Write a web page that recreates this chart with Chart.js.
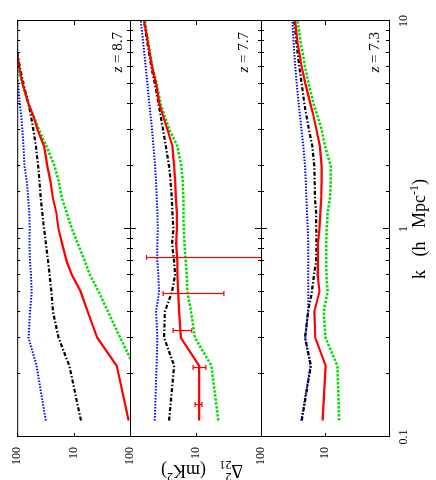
<!DOCTYPE html>
<html>
<head>
<meta charset="utf-8">
<script src="https://cdn.jsdelivr.net/npm/chart.js@4.4.1/dist/chart.umd.min.js"></script>
<style>
  html, body { margin: 0; padding: 0; background: #fff; }
  #page { width: 436px; height: 480px; position: relative; overflow: hidden; }
  /* the figure is drawn upright (480x436) and turned a quarter turn, like the original */
  #fig { position: absolute; left: 0; top: 0; width: 480px; height: 436px;
         transform-origin: 0 0; transform: translate(0, 480px) rotate(-90deg); }
  #fig canvas { position: absolute; left: 0; top: 0; }
</style>
</head>
<body>
<div id="page"><div id="fig">
  <canvas id="p1" width="480" height="436"></canvas>
  <canvas id="p2" width="480" height="436"></canvas>
  <canvas id="p3" width="480" height="436"></canvas>
</div></div>
<script>
const kValues = [0.12, 0.22, 0.3, 0.4, 0.5, 0.6, 0.7, 0.85, 1.0, 1.2, 1.4, 1.7, 2.0, 2.5, 3.0, 3.5, 4.0, 5.0, 6.0, 7.0, 8.0, 10];

// z = 8.7
const red87   = [1.06, 1.72, 3.8, 5.6, 7.5, 10.7, 13.3, 16, 18.5, 20.3, 23.2, 25.8, 29.2, 33.3, 43.5, 51.8, 63, 80.5, 92, 100, 112, 130];
const black87 = [7.4, 11.9, 18.5, 23.2, 24.8, 26.6, 28.4, 31, 33.3, 36, 38.2, 40.2, 42.4, 46.6, 51.8, 57, 63.2, 77.3, 90, 99, 106, 125];
const blue87  = [31.2, 45.3, 63, 59.3, 55.4, 57, 59.3, 60.8, 60, 61, 63.8, 67.7, 74.3, 77.3, 81, 85, 90, 97, 105, 112, 120, 135];
const green87 = [0.5, 0.85, 1.49, 2.45, 3.6, 5.1, 6.3, 8.4, 10.7, 13.3, 16, 18.4, 21.7, 30.3, 41, 51.2, 63.8, 81, 100, 115, 125, 140];

// z = 7.7
const red77   = [8.8, 8.8, 16.7, 17.8, 18.4, 18.9, 18.9, 19.8, 19.3, 19.3, 20, 20.5, 21.2, 22.5, 26.8, 31.3, 35.6, 40, 46, 50, 53.6, 61];
const black77 = [25.3, 21.2, 30.2, 29.4, 22.8, 20.5, 21.2, 22.8, 21.7, 22.5, 23, 24, 25.3, 28.4, 31.3, 34.1, 36.6, 41.9, 47.2, 51.2, 55, 61];
const blue77  = [41.9, 39.3, 38.2, 40, 36, 36.9, 38.2, 38.2, 37.7, 38.2, 39, 40, 41.4, 44, 46, 48.5, 50.7, 54.3, 57.5, 60.4, 63.2, 68.6];
const green77 = [4.5, 5.7, 10.2, 11.7, 13.3, 13.6, 14.1, 14.7, 15.1, 15.3, 15.3, 15.7, 16.4, 18.9, 24.9, 29.7, 34.1, 39.3, 45.3, 49.4, 53, 59];

// z = 7.3
const red73   = [10.9, 9.75, 14.2, 14.7, 12.2, 13, 12.9, 12.9, 12.2, 11.8, 11.5, 11.3, 11.3, 12, 13.6, 15.1, 16.9, 20.3, 23.1, 25.2, 27.1, 29.4];
const black73 = [23.1, 16.6, 20.5, 18.4, 16, 14.9, 13.8, 13.6, 13.7, 13.8, 14.3, 14.5, 14.7, 15.8, 17.8, 19.5, 21, 23.1, 25.2, 26.7, 28.1, 30.2];
const blue73  = [23.5, 16.8, 20.3, 18.4, 18.2, 18.2, 18.2, 18.2, 18.6, 19.1, 19.5, 20, 20.5, 21.8, 23.3, 24.6, 25.8, 27.7, 29.1, 30.2, 31, 32.4];
const green73 = [6.0, 6.4, 9.8, 10.5, 9.1, 9.5, 9.6, 9.6, 9.4, 9.1, 8.4, 8.1, 8.1, 10, 11.3, 13.1, 15.1, 18, 20.5, 22.3, 24.2, 26.7];

// error bars on the z = 7.7 panel
const errK    = [0.143, 0.214, 0.323, 0.485, 0.723];
const errLow  = [8.0, 6.95, 11.4, 3.7, 0.5];
const errHigh = [10.1, 10.9, 22, 31.3, 56];

const redshifts = ['8.7', '7.7', '7.3'];
const kTickLabels = [0.1, 1, 10];
const deltaTickLabels = [10, 100];

const FONT = '"Liberation Serif", "DejaVu Serif", serif';
const PLOT_LEFT = 43, PLOT_RIGHT = 459;
const panelBox = [
  { top: 15, bottom: 130, zOffset: 8 },
  { top: 130, bottom: 261, zOffset: 13 },
  { top: 261, bottom: 389, zOffset: 10 }
];
const seriesStyle = [   // red first so it ends up on top
  { color: '#ff0000', width: 2.2, dash: [] },
  { color: '#000000', width: 2.2, dash: [4, 2, 1.5, 2] },
  { color: '#0000ff', width: 2, dash: [1.5, 1.5] },
  { color: '#00dd00', width: 2.5, dash: [2.5, 1.5] }
];

function isDecade(v) {
  const l = Math.log10(v);
  return Math.abs(l - Math.round(l)) < 1e-6;
}
function inList(v, list) {
  return list.some(t => Math.abs(v - t) < 1e-9 * t);
}

// text with sub/superscripts; parts = {text, size, rise, italic, stack}
function drawRich(ctx, parts, x, y, align) {
  let w = 0, lastStart = 0;
  parts.forEach(p => {
    ctx.font = (p.italic ? 'italic ' : '') + p.size + 'px ' + FONT;
    const pw = ctx.measureText(p.text).width;
    p.dx = p.stack ? lastStart : w;
    lastStart = p.dx;
    w = Math.max(w, p.dx + pw);
  });
  const x0 = align === 'center' ? x - w / 2 : (align === 'right' ? x - w : x);
  ctx.textAlign = 'left';
  ctx.textBaseline = 'alphabetic';
  parts.forEach(p => {
    ctx.font = (p.italic ? 'italic ' : '') + p.size + 'px ' + FONT;
    ctx.fillText(p.text, x0 + p.dx, y - (p.rise || 0));
  });
}

const frameTicks = {
  id: 'frameTicks',
  afterDatasetsDraw(chart, args, opts) {
    if (!opts.errors) return;
    const { ctx, chartArea: a, scales: { x, y } } = chart;
    ctx.save();
    ctx.beginPath();
    ctx.rect(a.left, a.top, a.right - a.left, a.bottom - a.top);
    ctx.clip();
    ctx.strokeStyle = '#ff0000';
    ctx.lineWidth = 1.2;
    ctx.beginPath();
    errK.forEach((k, i) => {
      const px = Math.round(x.getPixelForValue(k)) + 0.5;
      const lo = y.getPixelForValue(errLow[i]);
      const hi = y.getPixelForValue(errHigh[i]);
      ctx.moveTo(px, lo); ctx.lineTo(px, hi);
      ctx.moveTo(px - 2.5, lo); ctx.lineTo(px + 2.5, lo);
      ctx.moveTo(px - 2.5, hi); ctx.lineTo(px + 2.5, hi);
    });
    ctx.stroke();
    ctx.restore();
  },
  afterDraw(chart, args, opts) {
    const { ctx, chartArea: a, scales: { x, y } } = chart;
    ctx.save();
    ctx.strokeStyle = '#000';
    ctx.lineWidth = 1;
    ctx.strokeRect(a.left + 0.5, a.top + 0.5, a.right - a.left, a.bottom - a.top);
    ctx.beginPath();
    x.ticks.forEach(t => {
      const px = Math.round(x.getPixelForValue(t.value)) + 0.5;
      const len = isDecade(t.value) ? 6 : 3;
      ctx.moveTo(px, a.top); ctx.lineTo(px, a.top + len);
      ctx.moveTo(px, a.bottom); ctx.lineTo(px, a.bottom - len);
    });
    y.ticks.forEach(t => {
      if (!isDecade(t.value)) return;
      const py = Math.round(y.getPixelForValue(t.value)) + 0.5;
      ctx.moveTo(a.left, py); ctx.lineTo(a.left + 4, py);
      ctx.moveTo(a.right, py); ctx.lineTo(a.right - 4, py);
    });
    ctx.stroke();

    ctx.fillStyle = '#000';
    drawRich(ctx, [
      { text: 'z', size: 15, italic: true },
      { text: ' = ' + opts.z, size: 15 }
    ], a.right - 11, a.bottom - opts.zOffset, 'right');

    if (opts.titles) {
      drawRich(ctx, [
        { text: 'k   (h   Mpc', size: 18 },
        { text: '-1', size: 12, rise: 7 },
        { text: ')', size: 18 }
      ], (PLOT_LEFT + PLOT_RIGHT) / 2, 425, 'center');

      ctx.save();
      ctx.translate(15, (panelBox[0].top + panelBox[2].bottom) / 2);
      ctx.rotate(-Math.PI / 2);
      drawRich(ctx, [
        { text: '\u0394', size: 18 },
        { text: '21', size: 12, rise: -4 },
        { text: '2', size: 12, rise: 8, stack: true },
        { text: '   (mK', size: 18 },
        { text: '2', size: 12, rise: 8 },
        { text: ')', size: 18 }
      ], 0, 0, 'center');
      ctx.restore();
    }
    ctx.restore();
  }
};

function makePanel(canvasId, index, series) {
  const box = panelBox[index];
  const isLast = index === panelBox.length - 1;
  const axisH = isLast ? 30 : 0;
  return new Chart(document.getElementById(canvasId), {
    type: 'line',
    data: {
      datasets: series.map((vals, i) => ({
        data: kValues.map((k, j) => ({ x: k, y: vals[j] })),
        borderColor: seriesStyle[i].color,
        borderWidth: seriesStyle[i].width,
        borderDash: seriesStyle[i].dash,
        pointRadius: 0,
        tension: 0,
        fill: false,
        clip: 0
      }))
    },
    options: {
      responsive: false,
      animation: false,
      devicePixelRatio: 1,
      layout: { padding: { left: 0, right: 480 - PLOT_RIGHT, top: box.top, bottom: 436 - box.bottom - axisH } },
      plugins: {
        legend: { display: false },
        tooltip: { enabled: false },
        frameTicks: { z: redshifts[index], zOffset: box.zOffset, errors: index === 1, titles: isLast }
      },
      scales: {
        x: {
          type: 'logarithmic', min: 0.1, max: 10,
          grid: { display: false, drawTicks: false }, border: { display: false },
          ticks: {
            display: isLast, autoSkip: false, maxRotation: 0, padding: 8, color: '#000',
            font: { family: FONT, size: 12 },
            callback: v => inList(v, kTickLabels) ? String(v) : ''
          },
          afterFit: s => { s.height = axisH; }
        },
        y: {
          type: 'logarithmic', min: 1, max: 100,
          grid: { display: false, drawTicks: false }, border: { display: false },
          ticks: {
            autoSkip: false, padding: 10, color: '#000',
            font: { family: FONT, size: 12 },
            callback: v => inList(v, deltaTickLabels) ? String(v) : ''
          },
          afterFit: s => { s.width = PLOT_LEFT; }
        }
      }
    },
    plugins: [frameTicks]
  });
}

makePanel('p1', 0, [red87, black87, blue87, green87]);
makePanel('p2', 1, [red77, black77, blue77, green77]);
makePanel('p3', 2, [red73, black73, blue73, green73]);
</script>
</body>
</html>
